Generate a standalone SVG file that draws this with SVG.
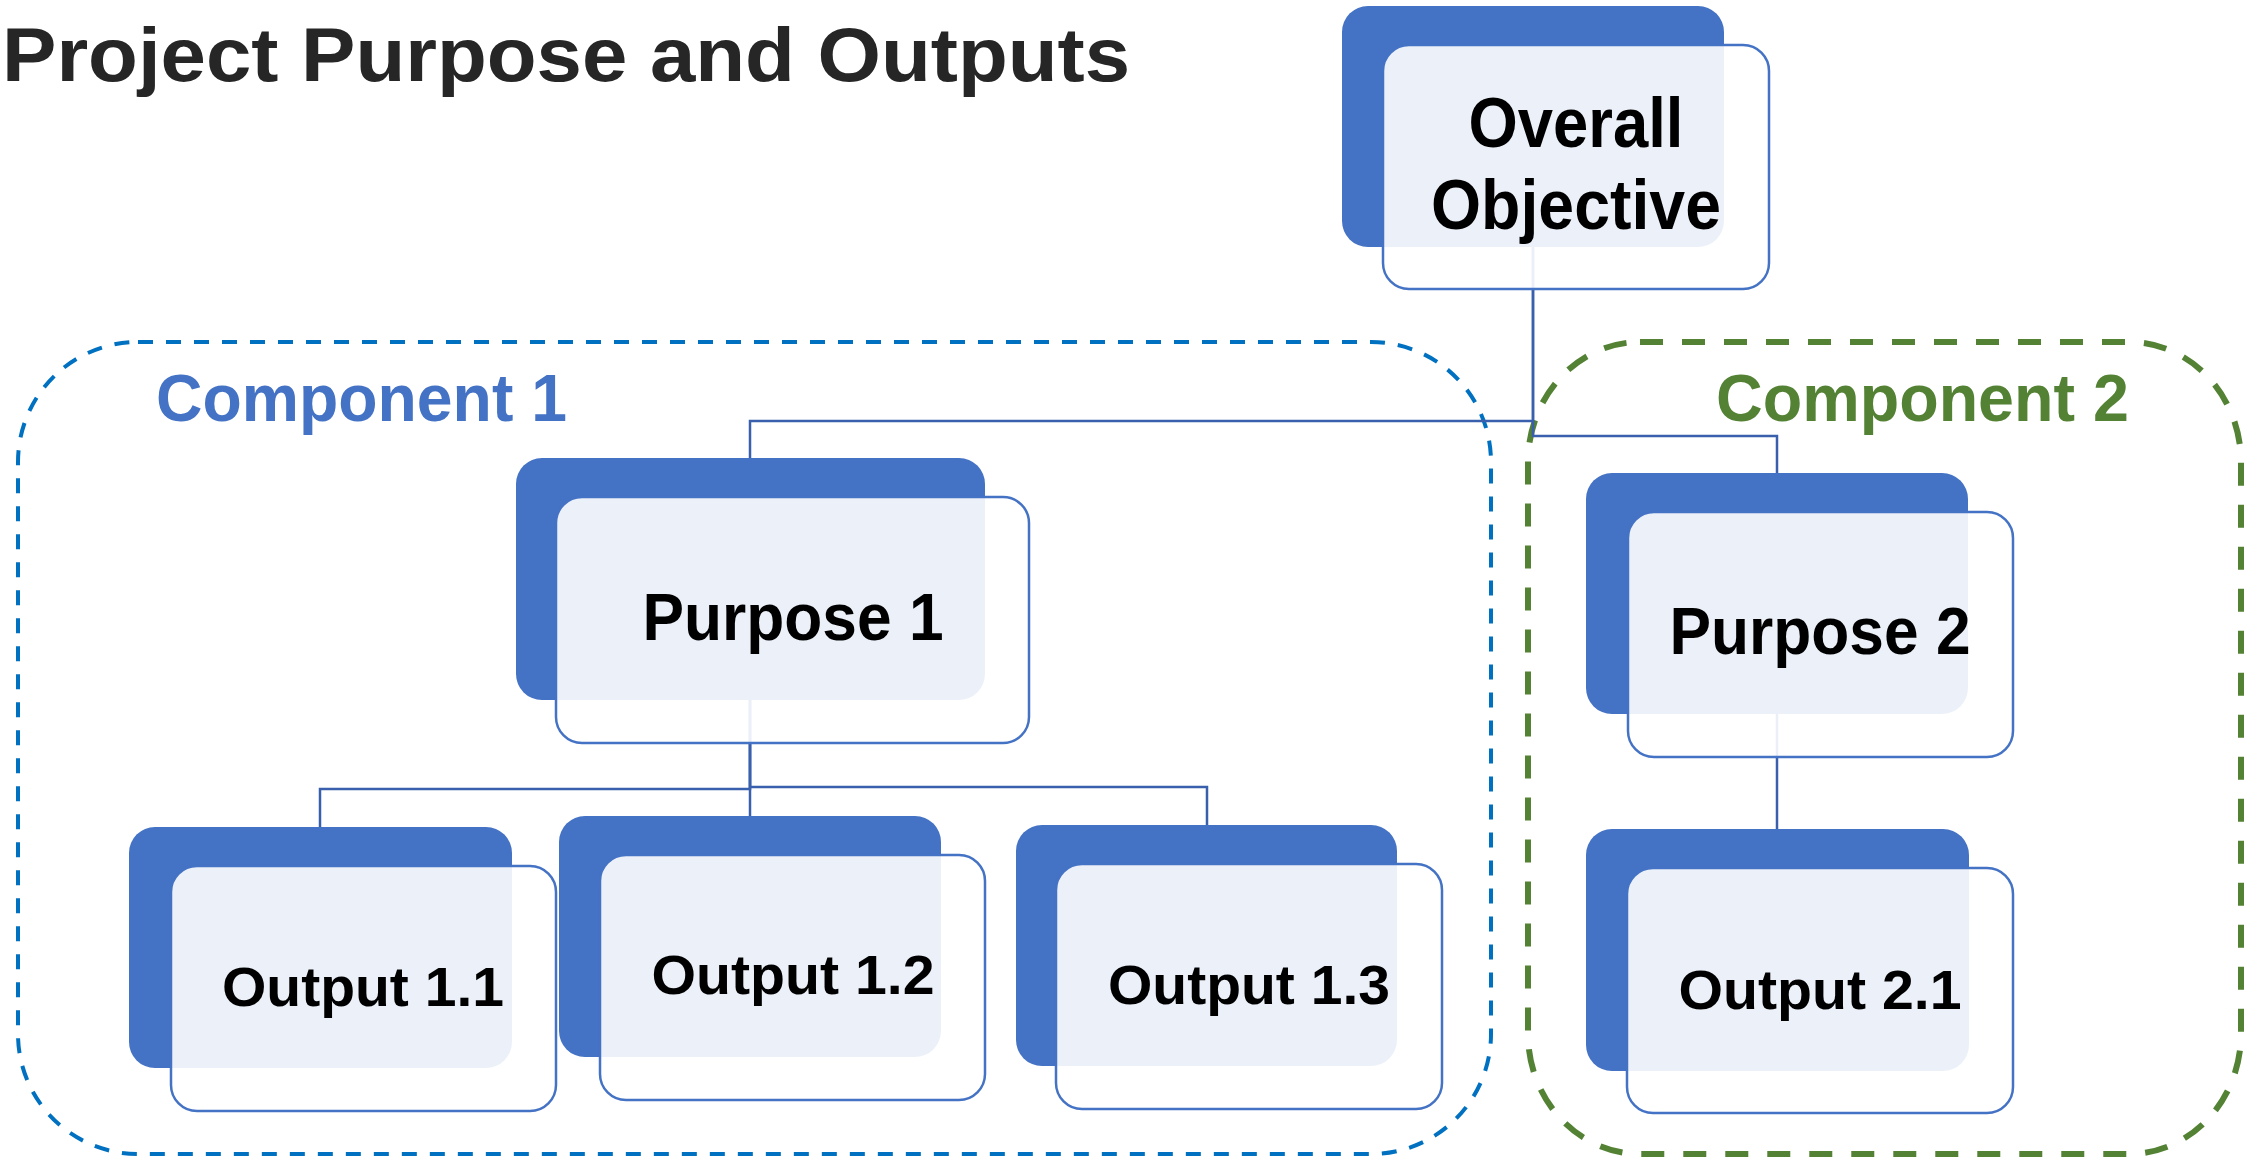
<svg xmlns="http://www.w3.org/2000/svg" width="2252" height="1157" viewBox="0 0 2252 1157">
<style>
.back{fill:#4472C4;}
.front{fill:#FFFFFF;fill-opacity:0.9;stroke:#4472C4;stroke-width:2.5;}
.lbl{font-family:"Liberation Sans",Arial,sans-serif;font-weight:bold;fill:#000;text-anchor:middle;}
.conn{fill:none;stroke:#3A60AD;stroke-width:2.5;}
.comp{font-family:"Liberation Sans",Arial,sans-serif;font-weight:bold;font-size:67px;}
</style>
<rect width="2252" height="1157" fill="#FFFFFF"/>
<text x="2" y="81" font-family="'Liberation Sans',Arial,sans-serif" font-weight="bold" font-size="76" fill="#262626" textLength="1128" lengthAdjust="spacingAndGlyphs">Project Purpose and Outputs</text>
<g id="component1">
<rect x="18" y="342" width="1473" height="812" rx="120" ry="120" fill="none" stroke="#0070C0" stroke-width="4" stroke-dasharray="15 13"/>
<text class="comp" x="156" y="421" fill="#4472C4" textLength="411" lengthAdjust="spacingAndGlyphs">Component 1</text>
</g>
<g id="component2">
<rect x="1528" y="342" width="713" height="812" rx="112" ry="120" fill="none" stroke="#548235" stroke-width="6" stroke-dasharray="23 19"/>
<text class="comp" x="1716" y="421" fill="#548235" textLength="413" lengthAdjust="spacingAndGlyphs">Component 2</text>
</g>
<g id="connectors">
<path class="conn" d="M1533 247 V421 H750 V458"/>
<path class="conn" d="M1533 247 V436 H1777 V473"/>
<path class="conn" d="M750 700 V789 H320 V827"/>
<path class="conn" d="M750 700 V816"/>
<path class="conn" d="M750 700 V787 H1207 V825"/>
<path class="conn" d="M1777 714 V829"/>
</g>
<g id="overall-objective">
<rect class="back" x="1342" y="6" width="382" height="241" rx="26"/>
<rect class="front" x="1383" y="45" width="386" height="244" rx="26"/>
<text class="lbl" x="1576" y="147" font-size="70" textLength="215" lengthAdjust="spacingAndGlyphs">Overall</text>
<text class="lbl" x="1576" y="229" font-size="70" textLength="290" lengthAdjust="spacingAndGlyphs">Objective</text>
</g>
<g id="purpose1">
<rect class="back" x="516" y="458" width="469" height="242" rx="26"/>
<rect class="front" x="556" y="497" width="473" height="246" rx="26"/>
<text class="lbl" x="793" y="640" font-size="66" textLength="301" lengthAdjust="spacingAndGlyphs">Purpose 1</text>
</g>
<g id="purpose2">
<rect class="back" x="1586" y="473" width="382" height="241" rx="26"/>
<rect class="front" x="1628" y="512" width="385" height="245" rx="26"/>
<text class="lbl" x="1820" y="654" font-size="66" textLength="301" lengthAdjust="spacingAndGlyphs">Purpose 2</text>
</g>
<g id="output1-1">
<rect class="back" x="129" y="827" width="383" height="241" rx="26"/>
<rect class="front" x="171" y="866" width="385" height="245" rx="26"/>
<text class="lbl" x="363" y="1006" font-size="56" textLength="282" lengthAdjust="spacingAndGlyphs">Output 1.1</text>
</g>
<g id="output1-2">
<rect class="back" x="559" y="816" width="382" height="241" rx="26"/>
<rect class="front" x="600" y="855" width="385" height="245" rx="26"/>
<text class="lbl" x="793" y="994" font-size="56" textLength="283" lengthAdjust="spacingAndGlyphs">Output 1.2</text>
</g>
<g id="output1-3">
<rect class="back" x="1016" y="825" width="381" height="241" rx="26"/>
<rect class="front" x="1056" y="864" width="386" height="245" rx="26"/>
<text class="lbl" x="1249" y="1004" font-size="56" textLength="282" lengthAdjust="spacingAndGlyphs">Output 1.3</text>
</g>
<g id="output2-1">
<rect class="back" x="1586" y="829" width="383" height="242" rx="26"/>
<rect class="front" x="1627" y="868" width="386" height="245" rx="26"/>
<text class="lbl" x="1820" y="1009" font-size="56" textLength="283" lengthAdjust="spacingAndGlyphs">Output 2.1</text>
</g>
</svg>
